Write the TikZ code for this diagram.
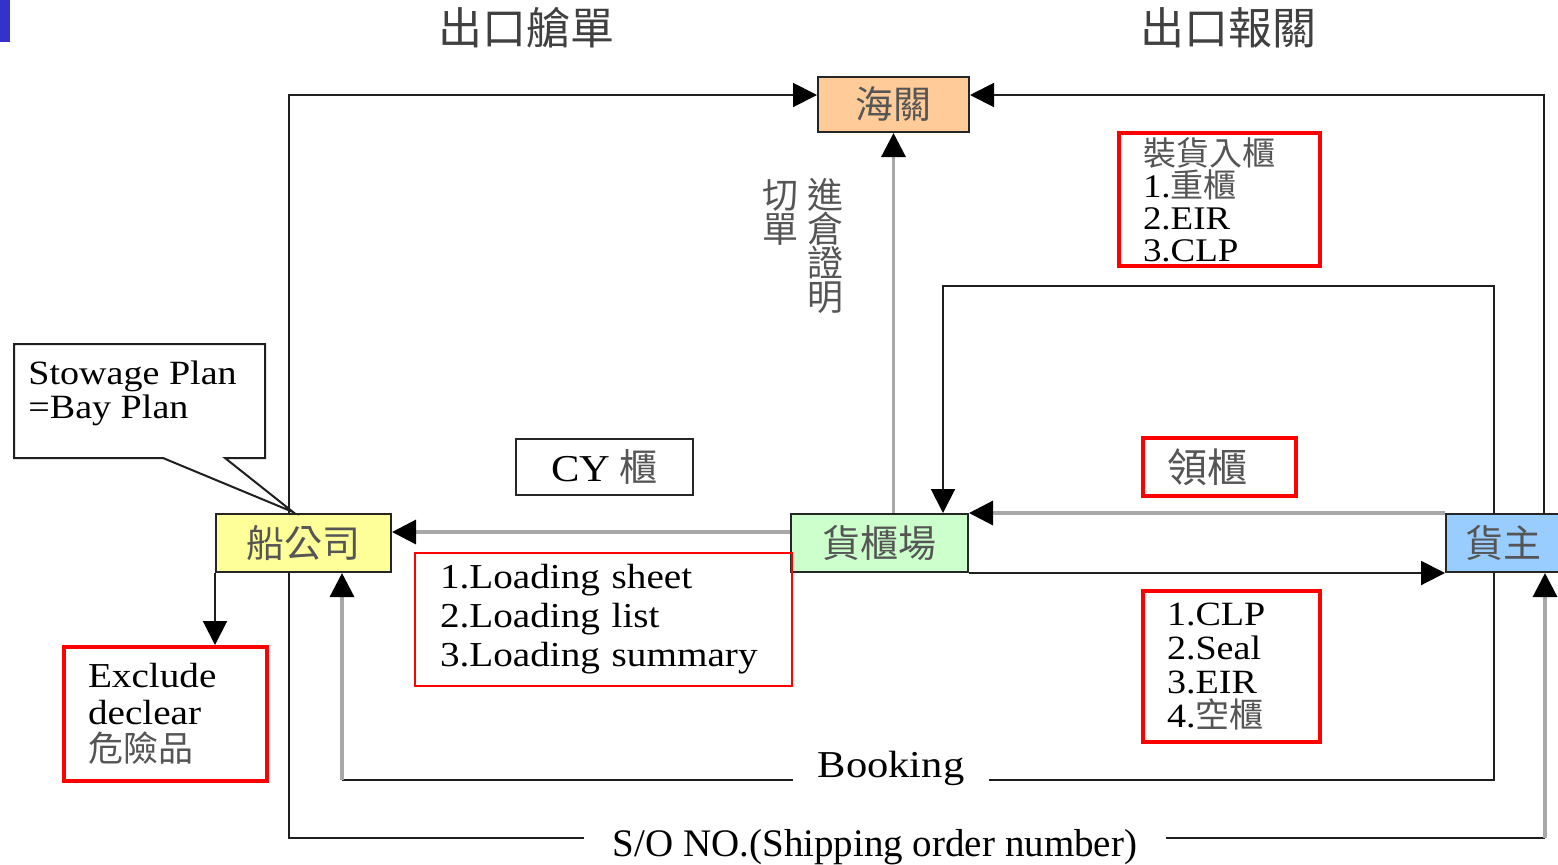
\documentclass[tikz,border=0pt]{standalone}
\usepackage{fontspec}
\setmainfont{Liberation Serif}
\newfontfamily\wide[FakeStretch=1.12]{Liberation Serif}
\newfontfamily\cjk{Noto Sans CJK TC}
\usetikzlibrary{arrows.meta}
\definecolor{cjkgray}{HTML}{555555}
\definecolor{linegray}{HTML}{A8A8A8}
\definecolor{boxred}{HTML}{FF0000}
\definecolor{custfill}{HTML}{FFCC99}
\definecolor{shipfill}{HTML}{FFFF99}
\definecolor{yardfill}{HTML}{CCFFCC}
\definecolor{ownfill}{HTML}{99CCFF}
\definecolor{bluemark}{HTML}{3333CC}
\newcommand{\zh}[1]{{\cjk\color{cjkgray}#1}}
\begin{document}
\begin{tikzpicture}[x=0.5pt,y=-0.5pt,
  blkline/.style={draw=black!88,line width=1pt},
  gryline/.style={draw=linegray,line width=1.6pt},
  tip/.style={-{Triangle[length=12pt,width=12pt,color=black]}},
  actor/.style={draw=black!85,line width=1pt,inner sep=0pt,
    font=\cjk\fontsize{19}{19}\selectfont,text=cjkgray},
  redbox/.style={draw=boxred,line width=2pt,inner ysep=0pt,align=left,
    font=\wide\fontsize{17}{15}\selectfont},
  gaplabel/.style={fill=white,inner ysep=2pt}
]
\useasboundingbox[fill=white] (0,0) rectangle (1558,864);
\fill[bluemark] (0,0) rectangle (10,42);

% titles
\node[font=\cjk\fontsize{22}{22}\selectfont,text=black!75] (t1) at (526,28) {出口艙單};
\node[font=\cjk\fontsize{22}{22}\selectfont,text=black!75] (t2) at (1228,28) {出口報關};

% actors
\node[actor,fill=custfill,minimum width=75.5pt,minimum height=27.5pt] (customs) at (893.5,104.5) {海關};
\node[actor,fill=shipfill,minimum width=87.5pt,minimum height=29pt] (ship) at (303.5,543) {船公司};
\node[actor,fill=yardfill,minimum width=88.5pt,minimum height=29pt] (yard) at (879.5,543) {貨櫃場};
\node[actor,fill=ownfill,minimum width=57pt,minimum height=29pt] (owner) at (1503,543) {貨主};

% connectors
\draw[blkline,tip] ([shift={(74,0)}]ship.north west) |- ([shift={(0,19)}]customs.north west);
\draw[blkline,tip] ([shift={(99,0)}]owner.north west) |- ([shift={(0,19)}]customs.north east);
\draw[gryline,tip] (yard.north -| customs.south) -- (customs.south);
\draw[blkline,tip] ([shift={(49,0)}]owner.north west) -- ++(0,-227) -| ([shift={(153,0)}]yard.north west);
\draw[gryline,tip] (owner.north west) -- (yard.north east);
\draw[blkline,tip] (yard.south east) -- (owner.south west);
\draw[gryline,tip] ([shift={(0,19)}]yard.north west) -- ([shift={(0,19)}]ship.north east);

\coordinate (bk) at (342,780);
\draw[blkline] ([shift={(49,0)}]owner.south west) |- (bk);
\draw[gryline,tip] (bk) -- (ship.south west -| bk);
\coordinate (so) at (1545,838);
\draw[blkline] ([shift={(74,0)}]ship.south west) |- (so);
\draw[gryline,tip] (so) -- (owner.south west -| so);

% labels on lines
\node[gaplabel,inner xsep=12.5pt,font=\wide\fontsize{19}{19}\selectfont] (booking) at (891,768) {Booking};
\node[gaplabel,inner xsep=14.5pt,font=\fontsize{19.5}{19.5}\selectfont] (sono) at (875,847) {S/O NO.(Shipping order number)};

% vertical label
\node[font=\cjk\fontsize{18}{17}\selectfont,text=cjkgray,align=left,inner sep=0pt] (cut) at (803,246)
  {切\kern4.5pt 進\\單\kern4.5pt 倉\\\phantom{切}\kern4.5pt 證\\\phantom{切}\kern4.5pt 明};

% callout
\draw[blkline,fill=white] (14,344) -- (265,344) -- (265,458) -- (225,458) -- (293,512)
  -- (163,458) -- (14,458) -- cycle;
\node[anchor=west,align=left,inner sep=0pt,font=\wide\fontsize{17}{17}\selectfont] (stow) at (28,393)
  {Stowage Plan\\=Bay Plan};

% CY box
\node[draw=black!85,line width=1pt,minimum width=88.5pt,minimum height=28pt,
  font=\fontsize{19}{19}\selectfont] (cy) at (604.5,467) {{\wide CY} \zh{櫃}};

% red boxes
\node[redbox,minimum height=66.5pt,inner xsep=12pt,text width=76.5pt,font=\wide\fontsize{16.5}{16}\selectfont] (stuff) at (1219.5,199.5)
  {\zh{裝貨入櫃}\\1.\zh{重櫃}\\2.EIR\\3.CLP};
\node[redbox,minimum height=29pt,inner xsep=12pt,text width=52.5pt,font=\cjk\fontsize{20}{20}\selectfont] (pick) at (1219.5,467)
  {\zh{領櫃}};
\node[redbox,minimum height=75.5pt,inner xsep=12pt,text width=64.5pt,font=\wide\fontsize{17}{17}\selectfont] (clp) at (1231.5,666.5)
  {1.CLP\\2.Seal\\3.EIR\\4.\zh{空櫃}};
\node[redbox,line width=0.8pt,minimum height=66.5pt,inner xsep=12.5pt,text width=163.5pt,font=\wide\fontsize{17.5}{19.5}\selectfont] (load) at (603.5,619.5)
  {1.Loading sheet\\2.Loading list\\3.Loading summary};
\node[redbox,minimum height=67pt,inner xsep=12pt,text width=77.5pt,font=\wide\fontsize{17.5}{18.5}\selectfont] (excl) at (165.5,714)
  {Exclude\\declear\\\zh{危險品}};
\draw[blkline,tip] (ship.south west) -- (excl.north -| ship.south west);
\end{tikzpicture}
\end{document}
